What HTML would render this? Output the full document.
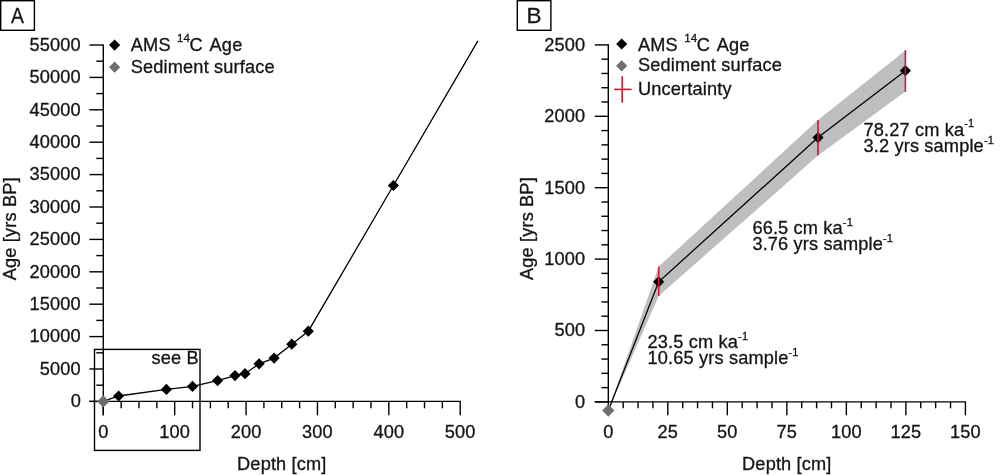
<!DOCTYPE html>
<html><head><meta charset="utf-8"><style>
html,body{margin:0;padding:0;background:#fff;}
svg{display:block;will-change:transform;}
text{font-family:"Liberation Sans",sans-serif;fill:#141414;letter-spacing:0.15px;stroke:#141414;stroke-width:0.3px;}
</style></head><body>
<svg width="1001" height="475" viewBox="0 0 1001 475">
<rect width="1001" height="475" fill="#fff"/>
<rect x="0.7" y="0.7" width="33.7" height="29.6" fill="none" stroke="#000" stroke-width="1.4"/>
<text transform="translate(17.4 23) scale(0.86 1)" font-size="22.5" text-anchor="middle" style="letter-spacing:0">A</text>
<line x1="103.3" y1="44.4" x2="103.3" y2="415.3" stroke="#000" stroke-width="1.4"/>
<line x1="89.4" y1="401.4" x2="103.3" y2="401.4" stroke="#000" stroke-width="1.4"/>
<text x="80.9" y="407.25" font-size="18.2" text-anchor="end">0</text>
<line x1="96.3" y1="385.2" x2="103.3" y2="385.2" stroke="#000" stroke-width="1.4"/>
<line x1="89.4" y1="369" x2="103.3" y2="369" stroke="#000" stroke-width="1.4"/>
<text x="80.9" y="374.85" font-size="18.2" text-anchor="end">5000</text>
<line x1="96.3" y1="352.8" x2="103.3" y2="352.8" stroke="#000" stroke-width="1.4"/>
<line x1="89.4" y1="336.6" x2="103.3" y2="336.6" stroke="#000" stroke-width="1.4"/>
<text x="80.9" y="342.45" font-size="18.2" text-anchor="end">10000</text>
<line x1="96.3" y1="320.4" x2="103.3" y2="320.4" stroke="#000" stroke-width="1.4"/>
<line x1="89.4" y1="304.2" x2="103.3" y2="304.2" stroke="#000" stroke-width="1.4"/>
<text x="80.9" y="310.05" font-size="18.2" text-anchor="end">15000</text>
<line x1="96.3" y1="288" x2="103.3" y2="288" stroke="#000" stroke-width="1.4"/>
<line x1="89.4" y1="271.8" x2="103.3" y2="271.8" stroke="#000" stroke-width="1.4"/>
<text x="80.9" y="277.65" font-size="18.2" text-anchor="end">20000</text>
<line x1="96.3" y1="255.6" x2="103.3" y2="255.6" stroke="#000" stroke-width="1.4"/>
<line x1="89.4" y1="239.4" x2="103.3" y2="239.4" stroke="#000" stroke-width="1.4"/>
<text x="80.9" y="245.25" font-size="18.2" text-anchor="end">25000</text>
<line x1="96.3" y1="223.2" x2="103.3" y2="223.2" stroke="#000" stroke-width="1.4"/>
<line x1="89.4" y1="207" x2="103.3" y2="207" stroke="#000" stroke-width="1.4"/>
<text x="80.9" y="212.85" font-size="18.2" text-anchor="end">30000</text>
<line x1="96.3" y1="190.8" x2="103.3" y2="190.8" stroke="#000" stroke-width="1.4"/>
<line x1="89.4" y1="174.6" x2="103.3" y2="174.6" stroke="#000" stroke-width="1.4"/>
<text x="80.9" y="180.45" font-size="18.2" text-anchor="end">35000</text>
<line x1="96.3" y1="158.4" x2="103.3" y2="158.4" stroke="#000" stroke-width="1.4"/>
<line x1="89.4" y1="142.2" x2="103.3" y2="142.2" stroke="#000" stroke-width="1.4"/>
<text x="80.9" y="148.05" font-size="18.2" text-anchor="end">40000</text>
<line x1="96.3" y1="126" x2="103.3" y2="126" stroke="#000" stroke-width="1.4"/>
<line x1="89.4" y1="109.8" x2="103.3" y2="109.8" stroke="#000" stroke-width="1.4"/>
<text x="80.9" y="115.65" font-size="18.2" text-anchor="end">45000</text>
<line x1="96.3" y1="93.6" x2="103.3" y2="93.6" stroke="#000" stroke-width="1.4"/>
<line x1="89.4" y1="77.4" x2="103.3" y2="77.4" stroke="#000" stroke-width="1.4"/>
<text x="80.9" y="83.25" font-size="18.2" text-anchor="end">50000</text>
<line x1="96.3" y1="61.2" x2="103.3" y2="61.2" stroke="#000" stroke-width="1.4"/>
<line x1="89.4" y1="45" x2="103.3" y2="45" stroke="#000" stroke-width="1.4"/>
<text x="80.9" y="50.85" font-size="18.2" text-anchor="end">55000</text>
<line x1="89.4" y1="401.4" x2="460.8" y2="401.4" stroke="#000" stroke-width="1.4"/>
<line x1="103.3" y1="401.4" x2="103.3" y2="415.3" stroke="#000" stroke-width="1.4"/>
<text x="103.3" y="437.9" font-size="18.2" text-anchor="middle">0</text>
<line x1="121.14" y1="401.4" x2="121.14" y2="408.3" stroke="#000" stroke-width="1.4"/>
<line x1="138.99" y1="401.4" x2="138.99" y2="408.3" stroke="#000" stroke-width="1.4"/>
<line x1="156.83" y1="401.4" x2="156.83" y2="408.3" stroke="#000" stroke-width="1.4"/>
<line x1="174.68" y1="401.4" x2="174.68" y2="415.3" stroke="#000" stroke-width="1.4"/>
<text x="174.68" y="437.9" font-size="18.2" text-anchor="middle">100</text>
<line x1="192.52" y1="401.4" x2="192.52" y2="408.3" stroke="#000" stroke-width="1.4"/>
<line x1="210.37" y1="401.4" x2="210.37" y2="408.3" stroke="#000" stroke-width="1.4"/>
<line x1="228.21" y1="401.4" x2="228.21" y2="408.3" stroke="#000" stroke-width="1.4"/>
<line x1="246.06" y1="401.4" x2="246.06" y2="415.3" stroke="#000" stroke-width="1.4"/>
<text x="246.06" y="437.9" font-size="18.2" text-anchor="middle">200</text>
<line x1="263.9" y1="401.4" x2="263.9" y2="408.3" stroke="#000" stroke-width="1.4"/>
<line x1="281.75" y1="401.4" x2="281.75" y2="408.3" stroke="#000" stroke-width="1.4"/>
<line x1="299.59" y1="401.4" x2="299.59" y2="408.3" stroke="#000" stroke-width="1.4"/>
<line x1="317.44" y1="401.4" x2="317.44" y2="415.3" stroke="#000" stroke-width="1.4"/>
<text x="317.44" y="437.9" font-size="18.2" text-anchor="middle">300</text>
<line x1="335.28" y1="401.4" x2="335.28" y2="408.3" stroke="#000" stroke-width="1.4"/>
<line x1="353.13" y1="401.4" x2="353.13" y2="408.3" stroke="#000" stroke-width="1.4"/>
<line x1="370.98" y1="401.4" x2="370.98" y2="408.3" stroke="#000" stroke-width="1.4"/>
<line x1="388.82" y1="401.4" x2="388.82" y2="415.3" stroke="#000" stroke-width="1.4"/>
<text x="388.82" y="437.9" font-size="18.2" text-anchor="middle">400</text>
<line x1="406.67" y1="401.4" x2="406.67" y2="408.3" stroke="#000" stroke-width="1.4"/>
<line x1="424.51" y1="401.4" x2="424.51" y2="408.3" stroke="#000" stroke-width="1.4"/>
<line x1="442.36" y1="401.4" x2="442.36" y2="408.3" stroke="#000" stroke-width="1.4"/>
<line x1="460.2" y1="401.4" x2="460.2" y2="415.3" stroke="#000" stroke-width="1.4"/>
<text x="460.2" y="437.9" font-size="18.2" text-anchor="middle">500</text>
<text x="281.8" y="470.2" font-size="18.2" text-anchor="middle">Depth [cm]</text>
<text transform="translate(16 228.8) rotate(-90)" font-size="18.2" text-anchor="middle">Age [yrs BP]</text>
<rect x="94.5" y="349.4" width="105.5" height="101" fill="none" stroke="#000" stroke-width="1.4"/>
<text x="198.7" y="364.2" font-size="18.2" text-anchor="end">see B</text>
<polyline fill="none" stroke="#000" stroke-width="1.3" points="103.3,401.4 118.6,396 166.4,389.4 192.5,386.4 217.6,380.6 235,375.6 245,373.7 259.1,363.8 274.1,358.1 291.8,344.2 308.3,331.2 393.4,185.5 477.9,40.8"/>
<path d="M118.6 390.4L124.2 396L118.6 401.6L113 396Z" fill="#000"/>
<path d="M166.4 383.8L172 389.4L166.4 395L160.8 389.4Z" fill="#000"/>
<path d="M192.5 380.8L198.1 386.4L192.5 392L186.9 386.4Z" fill="#000"/>
<path d="M217.6 375L223.2 380.6L217.6 386.2L212 380.6Z" fill="#000"/>
<path d="M235 370L240.6 375.6L235 381.2L229.4 375.6Z" fill="#000"/>
<path d="M245 368.1L250.6 373.7L245 379.3L239.4 373.7Z" fill="#000"/>
<path d="M259.1 358.2L264.7 363.8L259.1 369.4L253.5 363.8Z" fill="#000"/>
<path d="M274.1 352.5L279.7 358.1L274.1 363.7L268.5 358.1Z" fill="#000"/>
<path d="M291.8 338.6L297.4 344.2L291.8 349.8L286.2 344.2Z" fill="#000"/>
<path d="M308.3 325.6L313.9 331.2L308.3 336.8L302.7 331.2Z" fill="#000"/>
<path d="M393.4 179.9L399 185.5L393.4 191.1L387.8 185.5Z" fill="#000"/>
<path d="M103.3 395.3L109.4 401.4L103.3 407.5L97.2 401.4Z" fill="#6d6e70"/>
<path d="M114.6 39.5L120.2 45.1L114.6 50.7L109 45.1Z" fill="#000"/>
<path d="M114.6 61.6L120.2 67.2L114.6 72.8L109 67.2Z" fill="#6d6e70"/>
<text x="130.8" y="51" font-size="18.2">AMS</text>
<text x="177" y="42" font-size="11.5">14</text>
<text x="189.6" y="51" font-size="18.2">C</text>
<text x="209.6" y="51" font-size="18.2">Age</text>
<text x="130.8" y="72.5" font-size="18.2" text-anchor="start">Sediment surface</text>
<rect x="517.3" y="0.7" width="33.6" height="29.6" fill="none" stroke="#000" stroke-width="1.4"/>
<text x="534" y="23" font-size="22.5" text-anchor="middle" style="letter-spacing:0">B</text>
<polygon fill="#bcbec0" points="608.3,410.6 658.7,266.6 818,120.1 905.4,50.6 905.4,91.6 818,155.5 658.7,296"/>
<line x1="608.3" y1="44.3" x2="608.3" y2="401.9" stroke="#000" stroke-width="1.4"/>
<line x1="594.8" y1="401.9" x2="608.3" y2="401.9" stroke="#000" stroke-width="1.4"/>
<text x="585.2" y="407.75" font-size="18.2" text-anchor="end">0</text>
<line x1="601.4" y1="387.62" x2="608.3" y2="387.62" stroke="#000" stroke-width="1.4"/>
<line x1="601.4" y1="373.34" x2="608.3" y2="373.34" stroke="#000" stroke-width="1.4"/>
<line x1="601.4" y1="359.06" x2="608.3" y2="359.06" stroke="#000" stroke-width="1.4"/>
<line x1="601.4" y1="344.78" x2="608.3" y2="344.78" stroke="#000" stroke-width="1.4"/>
<line x1="594.8" y1="330.5" x2="608.3" y2="330.5" stroke="#000" stroke-width="1.4"/>
<text x="585.2" y="336.35" font-size="18.2" text-anchor="end">500</text>
<line x1="601.4" y1="316.22" x2="608.3" y2="316.22" stroke="#000" stroke-width="1.4"/>
<line x1="601.4" y1="301.94" x2="608.3" y2="301.94" stroke="#000" stroke-width="1.4"/>
<line x1="601.4" y1="287.66" x2="608.3" y2="287.66" stroke="#000" stroke-width="1.4"/>
<line x1="601.4" y1="273.38" x2="608.3" y2="273.38" stroke="#000" stroke-width="1.4"/>
<line x1="594.8" y1="259.1" x2="608.3" y2="259.1" stroke="#000" stroke-width="1.4"/>
<text x="585.2" y="264.95" font-size="18.2" text-anchor="end">1000</text>
<line x1="601.4" y1="244.82" x2="608.3" y2="244.82" stroke="#000" stroke-width="1.4"/>
<line x1="601.4" y1="230.54" x2="608.3" y2="230.54" stroke="#000" stroke-width="1.4"/>
<line x1="601.4" y1="216.26" x2="608.3" y2="216.26" stroke="#000" stroke-width="1.4"/>
<line x1="601.4" y1="201.98" x2="608.3" y2="201.98" stroke="#000" stroke-width="1.4"/>
<line x1="594.8" y1="187.7" x2="608.3" y2="187.7" stroke="#000" stroke-width="1.4"/>
<text x="585.2" y="193.55" font-size="18.2" text-anchor="end">1500</text>
<line x1="601.4" y1="173.42" x2="608.3" y2="173.42" stroke="#000" stroke-width="1.4"/>
<line x1="601.4" y1="159.14" x2="608.3" y2="159.14" stroke="#000" stroke-width="1.4"/>
<line x1="601.4" y1="144.86" x2="608.3" y2="144.86" stroke="#000" stroke-width="1.4"/>
<line x1="601.4" y1="130.58" x2="608.3" y2="130.58" stroke="#000" stroke-width="1.4"/>
<line x1="594.8" y1="116.3" x2="608.3" y2="116.3" stroke="#000" stroke-width="1.4"/>
<text x="585.2" y="122.15" font-size="18.2" text-anchor="end">2000</text>
<line x1="601.4" y1="102.02" x2="608.3" y2="102.02" stroke="#000" stroke-width="1.4"/>
<line x1="601.4" y1="87.74" x2="608.3" y2="87.74" stroke="#000" stroke-width="1.4"/>
<line x1="601.4" y1="73.46" x2="608.3" y2="73.46" stroke="#000" stroke-width="1.4"/>
<line x1="601.4" y1="59.18" x2="608.3" y2="59.18" stroke="#000" stroke-width="1.4"/>
<line x1="594.8" y1="44.9" x2="608.3" y2="44.9" stroke="#000" stroke-width="1.4"/>
<text x="585.2" y="50.75" font-size="18.2" text-anchor="end">2500</text>
<line x1="594.8" y1="401.9" x2="966" y2="401.9" stroke="#000" stroke-width="1.4"/>
<line x1="608.3" y1="401.9" x2="608.3" y2="415.3" stroke="#000" stroke-width="1.4"/>
<text x="608.3" y="437.9" font-size="18.2" text-anchor="middle">0</text>
<line x1="623.18" y1="401.9" x2="623.18" y2="408.3" stroke="#000" stroke-width="1.4"/>
<line x1="638.06" y1="401.9" x2="638.06" y2="408.3" stroke="#000" stroke-width="1.4"/>
<line x1="652.94" y1="401.9" x2="652.94" y2="408.3" stroke="#000" stroke-width="1.4"/>
<line x1="667.82" y1="401.9" x2="667.82" y2="415.3" stroke="#000" stroke-width="1.4"/>
<text x="667.82" y="437.9" font-size="18.2" text-anchor="middle">25</text>
<line x1="682.7" y1="401.9" x2="682.7" y2="408.3" stroke="#000" stroke-width="1.4"/>
<line x1="697.57" y1="401.9" x2="697.57" y2="408.3" stroke="#000" stroke-width="1.4"/>
<line x1="712.45" y1="401.9" x2="712.45" y2="408.3" stroke="#000" stroke-width="1.4"/>
<line x1="727.33" y1="401.9" x2="727.33" y2="415.3" stroke="#000" stroke-width="1.4"/>
<text x="727.33" y="437.9" font-size="18.2" text-anchor="middle">50</text>
<line x1="742.21" y1="401.9" x2="742.21" y2="408.3" stroke="#000" stroke-width="1.4"/>
<line x1="757.09" y1="401.9" x2="757.09" y2="408.3" stroke="#000" stroke-width="1.4"/>
<line x1="771.97" y1="401.9" x2="771.97" y2="408.3" stroke="#000" stroke-width="1.4"/>
<line x1="786.85" y1="401.9" x2="786.85" y2="415.3" stroke="#000" stroke-width="1.4"/>
<text x="786.85" y="437.9" font-size="18.2" text-anchor="middle">75</text>
<line x1="801.73" y1="401.9" x2="801.73" y2="408.3" stroke="#000" stroke-width="1.4"/>
<line x1="816.61" y1="401.9" x2="816.61" y2="408.3" stroke="#000" stroke-width="1.4"/>
<line x1="831.49" y1="401.9" x2="831.49" y2="408.3" stroke="#000" stroke-width="1.4"/>
<line x1="846.37" y1="401.9" x2="846.37" y2="415.3" stroke="#000" stroke-width="1.4"/>
<text x="846.37" y="437.9" font-size="18.2" text-anchor="middle">100</text>
<line x1="861.25" y1="401.9" x2="861.25" y2="408.3" stroke="#000" stroke-width="1.4"/>
<line x1="876.12" y1="401.9" x2="876.12" y2="408.3" stroke="#000" stroke-width="1.4"/>
<line x1="891" y1="401.9" x2="891" y2="408.3" stroke="#000" stroke-width="1.4"/>
<line x1="905.88" y1="401.9" x2="905.88" y2="415.3" stroke="#000" stroke-width="1.4"/>
<text x="905.88" y="437.9" font-size="18.2" text-anchor="middle">125</text>
<line x1="920.76" y1="401.9" x2="920.76" y2="408.3" stroke="#000" stroke-width="1.4"/>
<line x1="935.64" y1="401.9" x2="935.64" y2="408.3" stroke="#000" stroke-width="1.4"/>
<line x1="950.52" y1="401.9" x2="950.52" y2="408.3" stroke="#000" stroke-width="1.4"/>
<line x1="965.4" y1="401.9" x2="965.4" y2="415.3" stroke="#000" stroke-width="1.4"/>
<text x="965.4" y="437.9" font-size="18.2" text-anchor="middle">150</text>
<text x="786.8" y="470.2" font-size="18.2" text-anchor="middle">Depth [cm]</text>
<text transform="translate(532.5 228.6) rotate(-90)" font-size="18.2" text-anchor="middle">Age [yrs BP]</text>
<polyline fill="none" stroke="#000" stroke-width="1.3" points="608.3,410.6 658.7,281.8 818,137.6 905.4,70.7"/>
<path d="M608.3 404.5L614.4 410.6L608.3 416.7L602.2 410.6Z" fill="#6d6e70"/>
<path d="M658.7 276.2L664.3 281.8L658.7 287.4L653.1 281.8Z" fill="#000"/>
<path d="M818 132L823.6 137.6L818 143.2L812.4 137.6Z" fill="#000"/>
<path d="M905.4 65.1L911 70.7L905.4 76.3L899.8 70.7Z" fill="#000"/>
<line x1="658.7" y1="266.6" x2="658.7" y2="296" stroke="#cc1a30" stroke-width="1.6"/>
<line x1="818" y1="120.1" x2="818" y2="155.5" stroke="#cc1a30" stroke-width="1.6"/>
<line x1="905.4" y1="50.1" x2="905.4" y2="91.8" stroke="#cc1a30" stroke-width="1.6"/>
<path d="M621.7 38.4L627.3 44L621.7 49.6L616.1 44Z" fill="#000"/>
<path d="M621.7 60.2L627.3 65.8L621.7 71.4L616.1 65.8Z" fill="#6d6e70"/>
<line x1="614.1" y1="89.4" x2="631.6" y2="89.4" stroke="#cc1a30" stroke-width="1.6"/>
<line x1="622.2" y1="76.3" x2="622.2" y2="102.8" stroke="#cc1a30" stroke-width="1.6"/>
<text x="638" y="51" font-size="18.2">AMS</text>
<text x="684.2" y="42" font-size="11.5">14</text>
<text x="696.8" y="51" font-size="18.2">C</text>
<text x="716.8" y="51" font-size="18.2">Age</text>
<text x="638" y="71.3" font-size="18.2" text-anchor="start">Sediment surface</text>
<text x="638" y="94.6" font-size="18.2" text-anchor="start">Uncertainty</text>
<text x="863.5" y="135.7" font-size="18.2">78.27 cm ka<tspan font-size="11" dy="-8.3">-1</tspan></text>
<text x="863.5" y="152.2" font-size="18.2">3.2 yrs sample<tspan font-size="11" dy="-8.3">-1</tspan></text>
<text x="752.4" y="233.8" font-size="18.2">66.5 cm ka<tspan font-size="11" dy="-8.3">-1</tspan></text>
<text x="752.4" y="250.2" font-size="18.2">3.76 yrs sample<tspan font-size="11" dy="-8.3">-1</tspan></text>
<text x="647.6" y="348.4" font-size="18.2">23.5 cm ka<tspan font-size="11" dy="-8.3">-1</tspan></text>
<text x="647.6" y="364.2" font-size="18.2">10.65 yrs sample<tspan font-size="11" dy="-8.3">-1</tspan></text>
</svg>
</body></html>
